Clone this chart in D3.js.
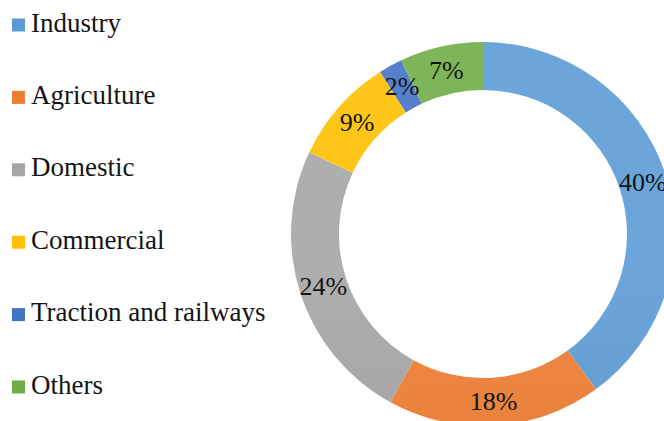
<!DOCTYPE html>
<html>
<head>
<meta charset="utf-8">
<script src="https://cdn.jsdelivr.net/npm/d3@7"></script>
<style>
  html, body { margin: 0; padding: 0; background: #fff; overflow: hidden; }
  svg { display: block; }
  text { font-family: "Times New Roman", "Liberation Serif", serif; fill: #141414; }
</style>
</head>
<body>
<svg id="chart" width="664" height="421"></svg>
<script>
// Electricity consumption share by sector (%)
const categories = ["Industry", "Agriculture", "Domestic", "Commercial", "Traction and railways", "Others"];
const shares = [40, 18, 24, 9, 2, 7];
const colors = ["#5B9BD5", "#ED7D31", "#A5A5A5", "#FFC000", "#4472C4", "#70AD47"];

const width = 664, height = 421;
const cx = 483, cy = 234;
const outerR = 192, innerR = 144;

const svg = d3.select("#chart");
const defs = svg.append("defs");

// Soft top-to-bottom shading on each ring segment
colors.forEach((c, i) => {
  const g = defs.append("linearGradient")
    .attr("id", "grad" + i)
    .attr("gradientUnits", "userSpaceOnUse")
    .attr("x1", 0).attr("x2", 0)
    .attr("y1", cy - outerR).attr("y2", cy + outerR);
  g.append("stop").attr("offset", "0%").attr("stop-color", d3.interpolateRgb(c, "#ffffff")(0.1));
  g.append("stop").attr("offset", "100%").attr("stop-color", d3.interpolateRgb(c, "#000000")(0.06));
});

const data = categories.map((name, i) => ({ name, value: shares[i], idx: i }));

const pie = d3.pie().value(d => d.value).sort(null);
const arc = d3.arc().innerRadius(innerR).outerRadius(outerR);
const labelArc = d3.arc().innerRadius((innerR + outerR) / 2).outerRadius((innerR + outerR) / 2);

const ring = svg.append("g").attr("transform", `translate(${cx},${cy})`);
const arcs = pie(data);

ring.selectAll("path.slice")
  .data(arcs)
  .join("path")
  .attr("class", "slice")
  .attr("d", arc)
  .attr("fill", d => `url(#grad${d.data.idx})`)
  .attr("stroke", "none");

ring.selectAll("text.pct")
  .data(arcs)
  .join("text")
  .attr("class", "pct")
  .attr("transform", d => `translate(${labelArc.centroid(d)})`)
  .attr("text-anchor", "middle")
  .attr("dy", "0.33em")
  .style("font-size", "26px")
  .text(d => d.data.value + "%");

// Legend
const legendX = 12, legendY0 = 25, legendStep = 72.4, sw = 13;
const legend = svg.append("g");
const item = legend.selectAll("g.item")
  .data(data)
  .join("g")
  .attr("class", "item")
  .attr("transform", (d, i) => `translate(${legendX},${legendY0 + i * legendStep})`);

item.append("rect")
  .attr("x", 0).attr("y", -sw / 2)
  .attr("width", sw).attr("height", sw)
  .attr("fill", d => colors[d.idx]);

item.append("text")
  .attr("x", 19)
  .attr("y", 6.5)
  .style("font-size", "27px")
  .text(d => d.name);
</script>
</body>
</html>
